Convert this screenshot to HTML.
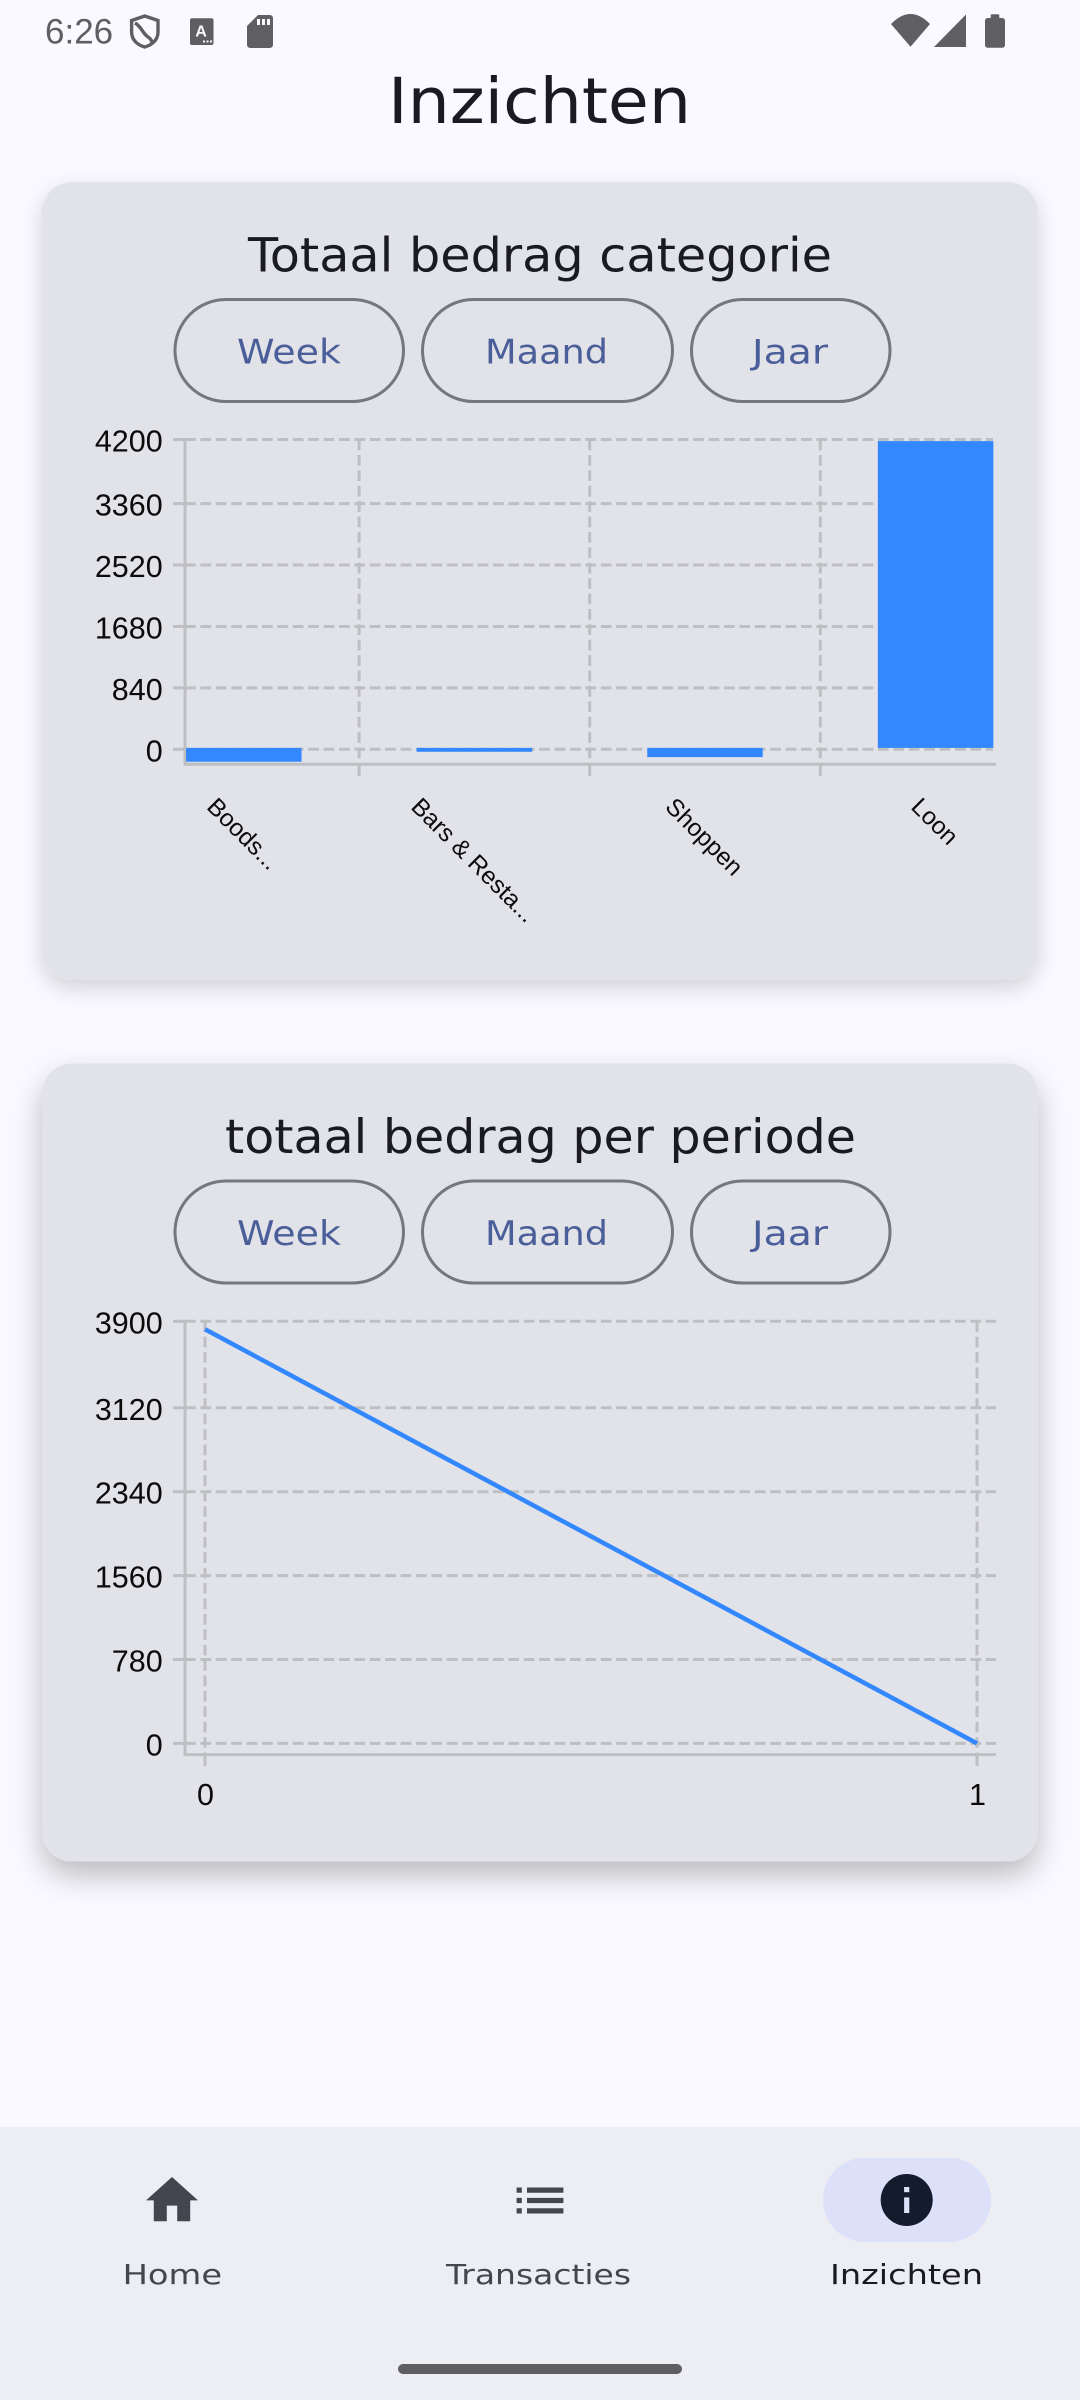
<!DOCTYPE html>
<html lang="nl">
<head>
<meta charset="utf-8">
<title>Inzichten</title>
<style>
html,body{margin:0;padding:0;width:1080px;height:2400px;overflow:hidden;background:#f9f9ff}
svg{display:block;position:absolute;left:0;top:0}
.ui{font-family:"DejaVu Sans","Liberation Sans",sans-serif}
.axis-text{font-family:"Liberation Sans",sans-serif;fill:#0b0b0b}
.btn-text{font-family:"DejaVu Sans","Liberation Sans",sans-serif;font-size:34px;fill:#4a5f99}
.nav-text{font-family:"DejaVu Sans","Liberation Sans",sans-serif;font-size:28px}
</style>
</head>
<body>
<svg id="page" width="1080" height="2400" viewBox="0 0 1080 2400" xmlns="http://www.w3.org/2000/svg">
  <defs>
    <filter id="cardShadow" x="-10%" y="-10%" width="120%" height="125%">
      <feDropShadow dx="0" dy="8" stdDeviation="11" flood-color="#000" flood-opacity="0.16"/>
    </filter>
    <filter id="cardShadowStrong" x="-10%" y="-10%" width="120%" height="130%">
      <feDropShadow dx="0" dy="14" stdDeviation="15" flood-color="#000" flood-opacity="0.25"/>
    </filter>
  </defs>
  <rect x="0" y="0" width="1080" height="2400" fill="#f9f9ff"/>

  <g>
    <text x="45" y="43.3" font-family="Liberation Sans, sans-serif" font-size="35" fill="#5f5f62">6:26</text>
    <g fill="none" stroke="#5f5f62" stroke-width="3.4">
      <path d="M144.7 16 L158 20.5 V32 C158 40 152 45 144.7 47 C137.5 45 131.6 40 131.6 32 V20.5 Z"/>
      <path d="M135 23 C142 27 142 33 148 37 C151 39 152 41 152 43"/>
    </g>
    <g>
      <rect x="190" y="18.3" width="23.5" height="26.7" rx="2" fill="#5f5f62"/>
      <text x="201" y="36.7" text-anchor="middle" font-family="Liberation Sans, sans-serif" font-size="16" font-weight="700" fill="#f9f9ff">A</text>
      <rect x="203" y="40.5" width="2" height="2" fill="#f9f9ff"/>
      <rect x="206.5" y="40.5" width="2" height="2" fill="#f9f9ff"/>
      <rect x="210" y="40.5" width="2" height="2" fill="#f9f9ff"/>
    </g>
    <g>
      <path d="M258 15 H269.5 Q273 15 273 18.5 V44.5 Q273 48 269.5 48 H250.5 Q247 48 247 44.5 V26 Z" fill="#5f5f62"/>
      <rect x="257" y="19" width="3" height="6" fill="#f9f9ff"/>
      <rect x="262" y="19" width="3" height="6" fill="#f9f9ff"/>
      <rect x="267" y="19" width="3" height="6" fill="#f9f9ff"/>
    </g>
    <path d="M910.5 46.7 L891 24 Q910.5 4 930 24 Z" fill="#5f5f62"/>
    <path d="M934 47 L966 14.5 V47 Z" fill="#5f5f62"/>
    <path d="M990.7 18 V15.5 Q990.7 14.3 992 14.3 H998 Q999.3 14.3 999.3 15.5 V18 H1002 Q1005 18 1005 21 V44.7 Q1005 47.7 1002 47.7 H988 Q985 47.7 985 44.7 V21 Q985 18 988 18 Z" fill="#5f5f62"/>
  </g>

  <text class="ui" x="388" y="123" font-size="63" fill="#1a1b20" textLength="303" lengthAdjust="spacingAndGlyphs">Inzichten</text>

  <g>
    <rect x="42" y="182" width="995.7" height="798" rx="30" ry="30" fill="#e2e2e9" filter="url(#cardShadow)"/>
    <text class="ui" x="248" y="271.7" font-size="47" fill="#1a1b20" textLength="584" lengthAdjust="spacingAndGlyphs">Totaal bedrag categorie</text>
    <g>
      <rect x="175" y="299.5" width="228.5" height="102" rx="51" fill="none" stroke="#74777f" stroke-width="3"/>
      <text class="btn-text" x="237" y="363.3" textLength="104" lengthAdjust="spacingAndGlyphs">Week</text>
    </g>
    <g>
      <rect x="422.5" y="299.5" width="250" height="102" rx="51" fill="none" stroke="#74777f" stroke-width="3"/>
      <text class="btn-text" x="485" y="363.3" textLength="123" lengthAdjust="spacingAndGlyphs">Maand</text>
    </g>
    <g>
      <rect x="691.5" y="299.5" width="198.5" height="102" rx="51" fill="none" stroke="#74777f" stroke-width="3"/>
      <text class="btn-text" x="752" y="363.3" textLength="76" lengthAdjust="spacingAndGlyphs">Jaar</text>
    </g>
    <g id="barChart"></g>
  </g>

  <g>
    <rect x="42" y="1063.5" width="995.7" height="798" rx="30" ry="30" fill="#e2e2e9" filter="url(#cardShadowStrong)"/>
    <text class="ui" x="225" y="1153.2" font-size="47" fill="#1a1b20" textLength="631" lengthAdjust="spacingAndGlyphs">totaal bedrag per periode</text>
    <g>
      <rect x="175" y="1181" width="228.5" height="102" rx="51" fill="none" stroke="#74777f" stroke-width="3"/>
      <text class="btn-text" x="237" y="1244.8" textLength="104" lengthAdjust="spacingAndGlyphs">Week</text>
    </g>
    <g>
      <rect x="422.5" y="1181" width="250" height="102" rx="51" fill="none" stroke="#74777f" stroke-width="3"/>
      <text class="btn-text" x="485" y="1244.8" textLength="123" lengthAdjust="spacingAndGlyphs">Maand</text>
    </g>
    <g>
      <rect x="691.5" y="1181" width="198.5" height="102" rx="51" fill="none" stroke="#74777f" stroke-width="3"/>
      <text class="btn-text" x="752" y="1244.8" textLength="76" lengthAdjust="spacingAndGlyphs">Jaar</text>
    </g>
    <g id="lineChart"></g>
  </g>

  <g>
    <rect x="0" y="2127" width="1080" height="273" fill="#ededf4"/>
    <g>
      <path transform="translate(140.8 2169.2) scale(2.6)" d="M10 20v-6h4v6h5v-8h3L12 3 2 12h3v8z" fill="#44464f"/>
      <text class="nav-text" x="122.6" y="2284" fill="#44464f" textLength="99.5" lengthAdjust="spacingAndGlyphs">Home</text>
    </g>
    <g>
      <path transform="translate(508.8 2169.3) scale(2.6)" d="M3 13h2v-2H3v2zm0 4h2v-2H3v2zm0-8h2V7H3v2zm4 4h14v-2H7v2zm0 4h14v-2H7v2zM7 7v2h14V7H7z" fill="#44464f"/>
      <text class="nav-text" x="446" y="2284" fill="#44464f" textLength="185" lengthAdjust="spacingAndGlyphs">Transacties</text>
    </g>
    <g>
      <rect x="823" y="2157.7" width="168" height="84.3" rx="42" fill="#dce1f9"/>
      <circle cx="906.7" cy="2200" r="26" fill="#141b2c"/>
      <rect x="904.1" y="2187" width="5.2" height="5.2" fill="#dce1f9"/>
      <rect x="904.1" y="2197.4" width="5.2" height="15.6" fill="#dce1f9"/>
      <text class="nav-text" x="830" y="2284" fill="#1a1b20" textLength="153" lengthAdjust="spacingAndGlyphs">Inzichten</text>
    </g>
    <rect x="398" y="2364" width="284" height="10" rx="5" fill="#5f5f62"/>
  </g>
</svg>

<script>
// Category bar chart data
const barCategories = ["Boods...", "Bars & Resta...", "Shoppen", "Loon"];
const barValues = [-189, -53, -126, 4195];
const barTicks = [0, 840, 1680, 2520, 3360, 4200];

// Period line chart data
const linePeriods = [0, 1];
const lineValues = [3850, 0];
const lineTicks = [0, 780, 1560, 2340, 3120, 3900];

const NS = "http://www.w3.org/2000/svg";
const GRID = "#bdbfc2";
const BLUE = "#3388ff";
const TOP_TICK_NUDGE = -2.6;

function make(tag, attrs, parent) {
  const el = document.createElementNS(NS, tag);
  for (const k in attrs) el.setAttribute(k, attrs[k]);
  parent.appendChild(el);
  return el;
}

/* ---------- bar chart ---------- */
const barRoot = document.getElementById("barChart");
const barZero = 749.3, barAxisY = 764.3, barAxisX = 185, barAxisRight = 996;
const barMax = Math.max.apply(null, barTicks);
function barY(v) { return barZero - v * (307.15 / barMax); }
function barTickY(t) { return barY(t) + (t === barMax ? TOP_TICK_NUDGE : 0); }
const barTop = barTickY(barMax);
function bandCenter(i) { return 243.8 + i * 230.6; }
const barWidth = 115.5;
const barBaseShift = -1.4;

barTicks.forEach(function (t) {
  const y = barTickY(t);
  const g = make("line", { x1: barAxisX, x2: 993, y1: y, y2: y, stroke: GRID, "stroke-width": 3, "stroke-dasharray": "10.7 4.7" }, barRoot);
  
  
  const tick = make("line", { x1: 173, x2: barAxisX, y1: y, y2: y, stroke: GRID, "stroke-width": 3 }, barRoot);
  
  
  const label = make("text", { x: 162.7, y: y + 12, "text-anchor": "end", "font-size": 30.5, class: "axis-text" }, barRoot);
  label.textContent = String(t);
  
  
});

barCategories.forEach(function (c, i) {
  if (i < barCategories.length - 1) {
    const gx = bandCenter(i) + 115.3;
    const vg = make("line", { x1: gx, x2: gx, y1: barTop, y2: barAxisY, stroke: GRID, "stroke-width": 3, "stroke-dasharray": "10.7 4.7" }, barRoot);
    
    
    const vt = make("line", { x1: gx, x2: gx, y1: barAxisY, y2: 776, stroke: GRID, "stroke-width": 3 }, barRoot);
    
    
  }
});

const barYAxis = make("line", { x1: barAxisX, x2: barAxisX, y1: barTop, y2: barAxisY + 1.5, stroke: GRID, "stroke-width": 3 }, barRoot);


const barXAxis = make("line", { x1: barAxisX, x2: barAxisRight, y1: barAxisY, y2: barAxisY, stroke: GRID, "stroke-width": 3 }, barRoot);



barValues.forEach(function (v, i) {
  const y0 = barY(0) + barBaseShift;
  const y1 = barY(v) + barBaseShift;
  const bar = make("rect", { x: bandCenter(i) - barWidth / 2, y: Math.min(y0, y1), width: barWidth, height: Math.abs(y1 - y0), fill: BLUE }, barRoot);
  
  
});

barCategories.forEach(function (c, i) {
  const label = make("text", { "font-size": 24.4, class: "axis-text" }, barRoot);
  label.textContent = c;
  
  
  const w = label.getComputedTextLength();
  const sx = bandCenter(i) - 0.5 - 0.7071 * (w + 17) / 2;
  const sy = 808;
  label.setAttribute("x", sx);
  label.setAttribute("y", sy);
  label.setAttribute("transform", "rotate(45 " + sx + " " + sy + ")");
});

/* ---------- line chart ---------- */
const lineRoot = document.getElementById("lineChart");
const lineZero = 1743.4, lineAxisY = 1754.6, lineAxisX = 185, lineRight = 996;
const lineMax = Math.max.apply(null, lineTicks);
function lineY(v) { return lineZero - v * (419.5 / lineMax); }
function lineTickY(t) { return lineY(t) + (t === lineMax ? TOP_TICK_NUDGE : 0); }
const lineTop = lineTickY(lineMax);
function lineX(v) { return 205 + v * 772; }

lineTicks.forEach(function (t) {
  const y = lineTickY(t);
  const g = make("line", { x1: lineAxisX, x2: lineRight, y1: y, y2: y, stroke: GRID, "stroke-width": 3, "stroke-dasharray": "10.7 4.7" }, lineRoot);
  
  
  const tick = make("line", { x1: 173, x2: lineAxisX, y1: y, y2: y, stroke: GRID, "stroke-width": 3 }, lineRoot);
  
  
  const label = make("text", { x: 162.7, y: y + 12, "text-anchor": "end", "font-size": 30.5, class: "axis-text" }, lineRoot);
  label.textContent = String(t);
  
  
});

linePeriods.forEach(function (p) {
  const gx = lineX(p);
  const vg = make("line", { x1: gx, x2: gx, y1: lineTop, y2: lineAxisY, stroke: GRID, "stroke-width": 3, "stroke-dasharray": "10.7 4.7" }, lineRoot);
  
  
  const vt = make("line", { x1: gx, x2: gx, y1: lineAxisY, y2: 1766, stroke: GRID, "stroke-width": 3 }, lineRoot);
  
  
  const label = make("text", { x: gx + 0.5, y: 1805, "text-anchor": "middle", "font-size": 30.5, class: "axis-text" }, lineRoot);
  label.textContent = String(p);
  
  
});

const lineYAxis = make("line", { x1: lineAxisX, x2: lineAxisX, y1: lineTop, y2: lineAxisY + 1.5, stroke: GRID, "stroke-width": 3 }, lineRoot);


const lineXAxis = make("line", { x1: lineAxisX, x2: lineRight, y1: lineAxisY, y2: lineAxisY, stroke: GRID, "stroke-width": 3 }, lineRoot);



const linePoints = lineValues.map(function (v, i) { return lineX(linePeriods[i]) + "," + lineY(v); }).join(" ");
const series = make("polyline", { points: linePoints, fill: "none", stroke: BLUE, "stroke-width": 4.5 }, lineRoot);


</script>
</body>
</html>
